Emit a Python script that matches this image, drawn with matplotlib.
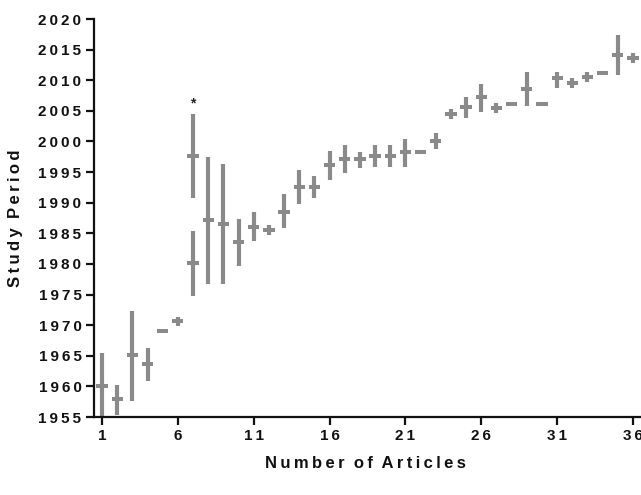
import matplotlib
matplotlib.use("Agg")
import matplotlib.pyplot as plt

# ---- data ----
articles = [1, 2, 3, 4, 5, 6, 7, 7, 8, 9, 10, 11, 12, 13, 14, 15, 16, 17, 18,
            19, 20, 21, 22, 23, 24, 25, 26, 27, 28, 29, 30, 31, 32, 33, 34, 35, 36]
medians = [1960.0, 1957.9, 1965.1, 1963.7, 1969.1, 1970.6, 1997.6, 1980.1, 1987.1,
           1986.6, 1983.6, 1986.1, 1985.5, 1988.5, 1992.6, 1992.6, 1996.2, 1997.2,
           1997.1, 1997.7, 1997.7, 1998.2, 1998.2, 2000.1, 2004.5, 2005.6, 2007.3,
           2005.5, 2006.1, 2008.6, 2006.1, 2010.3, 2009.6, 2010.5, 2011.1, 2014.1,
           2013.6]
lows = [1955.0, 1955.4, 1957.6, 1960.8, 1969.1, 1969.8, 1990.7, 1974.8, 1976.7,
        1976.7, 1979.7, 1983.8, 1984.7, 1985.8, 1989.8, 1990.7, 1993.7, 1994.8,
        1995.7, 1995.8, 1995.8, 1995.8, 1998.2, 1998.7, 2003.7, 2003.8, 2004.8,
        2004.7, 2006.1, 2005.8, 2006.1, 2008.8, 2008.8, 2009.7, 2011.1, 2010.9,
        2012.8]
highs = [1965.4, 1960.3, 1972.3, 1966.3, 1969.1, 1971.4, 2004.5, 1985.4, 1997.4,
         1996.3, 1987.3, 1988.4, 1986.3, 1991.4, 1995.3, 1994.4, 1998.4, 1999.4,
         1998.3, 1999.4, 1999.4, 2000.4, 1998.2, 2001.4, 2005.3, 2007.3, 2009.4,
         2006.3, 2006.1, 2011.3, 2006.1, 2011.4, 2010.4, 2011.3, 2011.1, 2017.4,
         2014.4]
star_article = 7
star_year = 2005.0

x_ticks = [1, 6, 11, 16, 21, 26, 31, 36]
y_ticks = list(range(1955, 2021, 5))

THIN = "\u2009"
def spaced(s):
    return THIN.join(s)

plt.rcParams['font.family'] = ['Liberation Sans', 'DejaVu Sans']
plt.rcParams['font.weight'] = 'bold'

fig = plt.figure(figsize=(6.41, 4.95), dpi=100)
ax = fig.add_axes([94/641, 78/495, 547/641, 398/495])

gray = '#8a8a8a'
ax.vlines(articles, lows, highs, colors=gray, linewidth=3.0, capstyle='butt', zorder=2)
ax.hlines(medians, [a - 0.37 for a in articles], [a + 0.37 for a in articles],
          colors=gray, linewidth=2.9, capstyle='butt', zorder=3)
ax.text(star_article, star_year, '*', ha='center', va='bottom', fontsize=10,
        fontweight='bold', color='#222222')

ax.set_xlim(0.47, 36.53)
ax.set_ylim(1955, 2020)
ax.set_xticks(x_ticks)
ax.set_xticklabels([spaced(str(t)) for t in x_ticks])
ax.set_yticks(y_ticks)
ax.set_yticklabels([spaced(str(t)) for t in y_ticks])

for s in ['top', 'right']:
    ax.spines[s].set_visible(False)
for s in ['left', 'bottom']:
    ax.spines[s].set_linewidth(1.6)
    ax.spines[s].set_color('#111111')

ax.tick_params(axis='both', direction='out', length=5.5, width=1.6, color='#111111',
               labelsize=11, labelcolor='#111111', pad=3.5)

ax.set_xlabel(spaced("Number") + "  " + spaced("of") + "  " + spaced("Articles"),
              fontsize=12, fontweight='bold', color='#111111')
ax.xaxis.set_label_coords(0.497, -0.098)
ax.set_ylabel(spaced("Study") + "  " + spaced("Period"), fontsize=12,
              fontweight='bold', color='#111111')
ax.yaxis.set_label_coords(-0.13, 0.5)

fig.savefig('out.png', dpi=100)
